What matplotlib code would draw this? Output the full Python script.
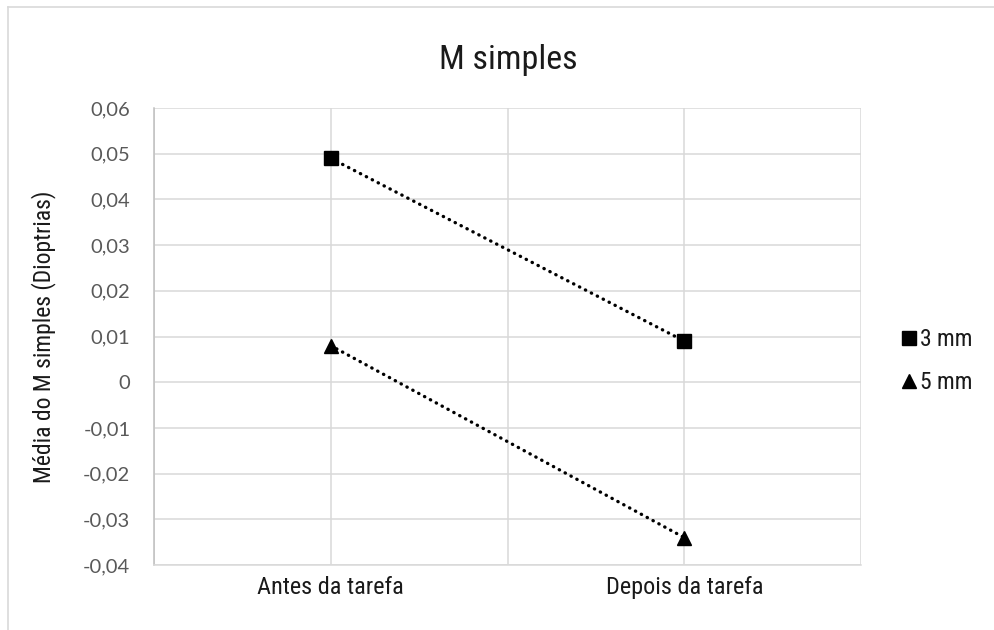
import matplotlib
matplotlib.use("Agg")
import matplotlib.pyplot as plt
from matplotlib import font_manager
from matplotlib.lines import Line2D

# data
categories = ["Antes da tarefa", "Depois da tarefa"]
series_names = ["3 mm", "5 mm"]
vals_3mm = [0.049, 0.009]
vals_5mm = [0.008, -0.034]
yticks = [-0.04, -0.03, -0.02, -0.01, 0, 0.01, 0.02, 0.03, 0.04, 0.05, 0.06]

names = {f.name for f in font_manager.fontManager.ttflist}
narrow = "Liberation Sans"
for cand in ["Liberation Sans Narrow", "Arial Narrow", "Roboto Condensed"]:
    if cand in names:
        narrow = cand
        break
numfont = "Lato" if "Lato" in names else "DejaVu Sans"
txt_size = 15 if narrow == "Liberation Sans" else 17.5

W, H = 995, 630
fig = plt.figure(figsize=(W / 100, H / 100), dpi=100)
ax = fig.add_axes([154 / W, 1 - 565 / H, (861 - 154) / W, (565 - 108) / H])

x = list(range(len(categories)))
line_kw = dict(color="black", lw=2.4, linestyle=(0, (0.1, 1.9)), dash_capstyle="round",
               markersize=10, zorder=3, clip_on=False)
ax.plot(x, vals_3mm, marker="s", **line_kw)
ax.plot(x, vals_5mm, marker="^", **line_kw)

ax.set_xlim(-0.5, 1.5)
ax.set_ylim(-0.04, 0.06)
ax.set_yticks(yticks)
ax.set_yticklabels([("%.2f" % v).replace(".", ",") if v != 0 else "0" for v in yticks],
                   fontfamily=numfont, fontsize=14.5, color="#595959")
ax.set_xticks(x)
ax.set_xticklabels(categories, fontfamily=narrow, fontsize=txt_size, color="#1a1a1a")
ax.set_xticks([-0.5, 0.5, 1.5], minor=True)
ax.tick_params(which="both", length=0)
ax.tick_params(axis="y", pad=17)
ax.tick_params(axis="x", pad=8)

ax.grid(True, which="both", color="#d9d9d9", lw=1.1)
ax.set_axisbelow(True)
for s in ["top", "right"]:
    ax.spines[s].set_visible(False)
ax.spines["left"].set_color("#bfbfbf")
ax.spines["left"].set_linewidth(1.1)
ax.spines["bottom"].set_color("#d9d9d9")
ax.spines["bottom"].set_linewidth(1.1)

fig.text(44 / W, 1 - 337 / H, "Média do M simples (Dioptrias)", rotation=90,
         ha="center", va="center", fontfamily=narrow, fontsize=txt_size - 0.5, color="#1a1a1a")
fig.text(508 / W, 1 - 60 / H, "M simples", ha="center", va="center",
         fontfamily=narrow, fontsize=24.5, color="#1a1a1a")

handles = [Line2D([], [], color="black", marker="s", linestyle="none", markersize=10),
           Line2D([], [], color="black", marker="^", linestyle="none", markersize=10)]
fig.legend(handles, series_names, loc="center left", bbox_to_anchor=(881 / W, 1 - 361 / H),
           frameon=False, handlelength=0.6, handletextpad=0.15, labelspacing=0.85,
           prop={"family": narrow, "size": txt_size - 0.5}, labelcolor="#1a1a1a")

# outer chart border (top/left visible in the crop)
fig.add_artist(Line2D([8 / W, 8 / W], [0, 1 - 7 / H], transform=fig.transFigure,
                      color="#d9d9d9", lw=1.2))
fig.add_artist(Line2D([8 / W, 1], [1 - 7 / H, 1 - 7 / H], transform=fig.transFigure,
                      color="#d9d9d9", lw=1.2))

fig.savefig("out.png", dpi=100)
